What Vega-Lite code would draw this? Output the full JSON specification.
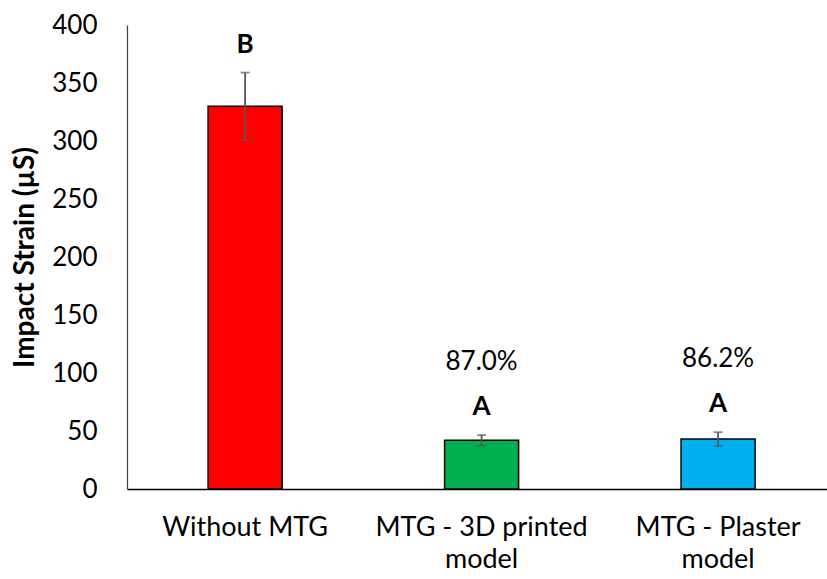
{
  "$schema": "https://vega.github.io/schema/vega-lite/v6.json",
  "autosize": {"type": "none"},
  "width": 700,
  "height": 464,
  "padding": {"left": 127, "top": 25, "right": 0, "bottom": 90},
  "background": "white",
  "config": {"view": {"stroke": null}, "font": "Lato"},
  "data": {
    "values": [
      {"group": "Without MTG", "strain": 330, "lo": 301, "hi": 359, "letter": "B", "pct": ""},
      {"group": "MTG - 3D printed model", "strain": 42, "lo": 37.5, "hi": 46.5, "letter": "A", "pct": "87.0%"},
      {"group": "MTG - Plaster model", "strain": 43, "lo": 37, "hi": 49, "letter": "A", "pct": "86.2%"}
    ]
  },
  "encoding": {
    "x": {
      "field": "group",
      "type": "nominal",
      "sort": null,
      "scale": {"paddingInner": 0.687, "paddingOuter": 0.3235, "align": 0.53},
      "axis": {
        "title": null,
        "labelAngle": 0,
        "labelFont": "Lato",
        "labelFontSize": 27,
        "labelColor": "black",
        "labelPadding": 25,
        "labelLineHeight": 32,
        "labelLimit": 400,
        "ticks": false,
        "domainColor": "black",
        "domainWidth": 1.5,
        "labelExpr": "indexof(datum.label, ' model') > 0 ? [replace(datum.label, ' model', ''), 'model'] : datum.label"
      }
    }
  },
  "layer": [
    {
      "mark": {"type": "bar", "stroke": "black", "strokeWidth": 1.5},
      "encoding": {
        "y": {
          "field": "strain",
          "type": "quantitative",
          "title": "Impact Strain (µS)",
          "scale": {"domain": [0, 400], "nice": false},
          "axis": {
            "titleFont": "Lato",
            "titleFontSize": 28,
            "titleFontWeight": "bold",
            "titleColor": "black",
            "titlePadding": 12,
            "values": [0, 50, 100, 150, 200, 250, 300, 350, 400],
            "labelFont": "Lato",
            "labelFontSize": 26,
            "labelColor": "black",
            "labelPadding": 30,
            "ticks": false,
            "grid": false,
            "domainColor": "#404040",
            "domainWidth": 1.2
          }
        },
        "color": {
          "field": "group",
          "type": "nominal",
          "scale": {
            "domain": ["Without MTG", "MTG - 3D printed model", "MTG - Plaster model"],
            "range": ["#FF0000", "#00B050", "#00B0F0"]
          },
          "legend": null
        }
      }
    },
    {
      "mark": {"type": "errorbar", "color": "#595959", "thickness": 1.8, "ticks": {"size": 9, "color": "#595959"}},
      "encoding": {
        "y": {"field": "lo", "type": "quantitative", "title": "Impact Strain (µS)"},
        "y2": {"field": "hi"}
      }
    },
    {
      "mark": {"type": "text", "font": "Lato", "fontSize": 26, "fontWeight": "bold", "color": "black", "baseline": "middle", "dy": -28},
      "encoding": {
        "y": {"field": "hi", "type": "quantitative", "title": "Impact Strain (µS)"},
        "text": {"field": "letter"}
      }
    },
    {
      "mark": {"type": "text", "font": "Lato", "fontSize": 26, "color": "black", "baseline": "middle", "dy": -73},
      "encoding": {
        "y": {"field": "hi", "type": "quantitative", "title": "Impact Strain (µS)"},
        "text": {"field": "pct"}
      }
    }
  ]
}
